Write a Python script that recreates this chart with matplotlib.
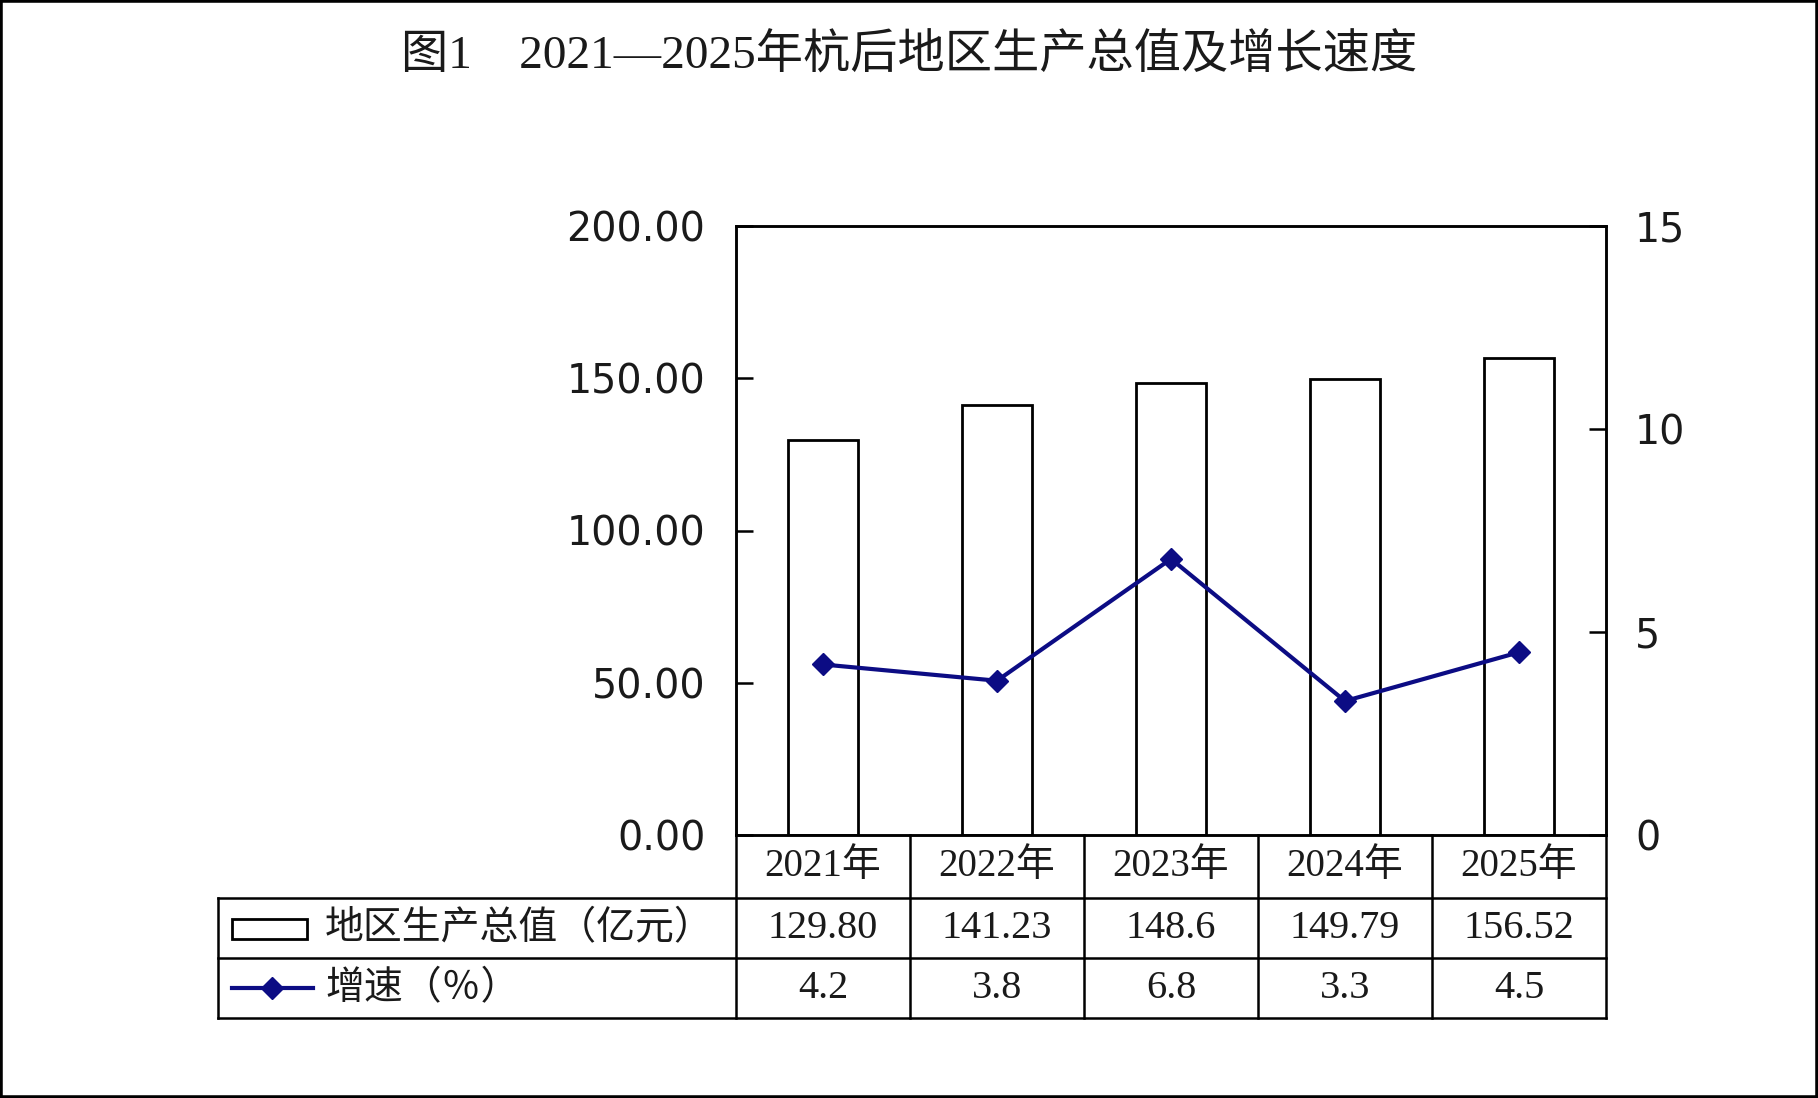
import matplotlib
matplotlib.use("Agg")
import matplotlib.pyplot as plt
import matplotlib.transforms as mtransforms
from matplotlib.lines import Line2D
from matplotlib.patches import Rectangle

# data
years = ["2021年", "2022年", "2023年", "2024年", "2025年"]
gdp = [129.80, 141.23, 148.6, 149.79, 156.52]
gdp_labels = ["129.80", "141.23", "148.6", "149.79", "156.52"]
growth = [4.2, 3.8, 6.8, 3.3, 4.5]
growth_labels = ["4.2", "3.8", "6.8", "3.3", "4.5"]
left_ticks = [0, 50, 100, 150, 200]
right_ticks = [0, 5, 10, 15]

title = "图1\u30002021—2025年杭后地区生产总值及增长速度"
gdp_name = "地区生产总值（亿元）"
growth_name = "增速（％）"

serif_cjk = ["Liberation Serif", "Noto Sans CJK SC", "DejaVu Sans"]
line_color = "#0c0c84"
txt_color = "#1a1a1a"

W, H = 1818, 1098
fig = plt.figure(figsize=(W / 100, H / 100), dpi=100)

# axes box in pixels
ax_l, ax_r, ax_t, ax_b = 736, 1606, 226, 835
ax = fig.add_axes([ax_l / W, 1 - ax_b / H, (ax_r - ax_l) / W, (ax_b - ax_t) / H])
x = list(range(len(years)))
ax.bar(x, gdp, width=0.4, color="white", edgecolor="black", linewidth=2, zorder=2)
ax.set_xlim(-0.5, len(years) - 0.5)
ax.set_ylim(0, 200)
ax.set_yticks(left_ticks)
ax.set_yticklabels([f"{v:.2f}" for v in left_ticks])
ax.set_xticks([])
ax.tick_params(axis="y", direction="in", length=12, width=1.8, pad=22,
               labelsize=28.5, labelcolor=txt_color)
for s in ax.spines.values():
    s.set_linewidth(1.8)

ax2 = ax.twinx()
ax2.plot(x, growth, color=line_color, linewidth=3, marker="D", markersize=11,
         markerfacecolor=line_color, markeredgecolor=line_color, zorder=3)
ax2.set_ylim(0, 15)
ax2.set_yticks(right_ticks)
ax2.set_yticklabels([str(v) for v in right_ticks])
ax2.tick_params(axis="y", direction="in", length=12, width=1.8, pad=21,
                labelsize=28.5, labelcolor=txt_color)
for s in ax2.spines.values():
    s.set_linewidth(1.8)

# title
fig.text(0.5, 1 - 56 / H, title, ha="center", va="center", fontsize=34,
         family=serif_cjk, color=txt_color)

# data table under the axes
trans = mtransforms.blended_transform_factory(ax.transData, fig.transFigure)
px_per_cat = (ax_r - ax_l) / len(years)
tab_left = -0.5 - (ax_l - 218) / px_per_cat
rows_px = [835, 898, 958, 1018]
rows = [1 - r / H for r in rows_px]
xr = len(years) - 0.5
lw = 1.8

def hline(x0, x1, y):
    fig.add_artist(Line2D([x0, x1], [y, y], transform=trans, color="black", lw=lw))

def vline(xv, y0, y1):
    fig.add_artist(Line2D([xv, xv], [y0, y1], transform=trans, color="black", lw=lw))

hline(tab_left, xr, rows[1])
hline(tab_left, xr, rows[2])
hline(tab_left, xr, rows[3])
vline(tab_left, rows[1], rows[3])
for i in range(len(years) + 1):
    vline(i - 0.5, rows[0], rows[3])

cy = [(rows[i] + rows[i + 1]) / 2 for i in range(3)]
for i in x:
    fig.text(i, cy[0], years[i], transform=trans, ha="center", va="center",
             fontsize=28, family=serif_cjk, color=txt_color)
    fig.text(i, cy[1], gdp_labels[i], transform=trans, ha="center", va="center",
             fontsize=29, family=serif_cjk, color=txt_color)
    fig.text(i, cy[2], growth_labels[i], transform=trans, ha="center", va="center",
             fontsize=29, family=serif_cjk, color=txt_color)

# legend keys inside the table
fig.add_artist(Rectangle((232 / W, 1 - 939 / H), 75 / W, 20 / H, transform=fig.transFigure,
                         facecolor="white", edgecolor="black", lw=2))
fig.add_artist(Line2D([232 / W, 313 / W], [1 - 988 / H, 1 - 988 / H], transform=fig.transFigure,
                      color=line_color, lw=3))
fig.add_artist(Line2D([272 / W], [1 - 988 / H], transform=fig.transFigure, marker="D",
                      markersize=11, color=line_color, lw=0))
fig.text(325 / W, cy[1], gdp_name, ha="left", va="center", fontsize=28,
         family=["Noto Sans CJK SC", "DejaVu Sans"], color=txt_color)
fig.text(325 / W, cy[2], growth_name, ha="left", va="center", fontsize=28,
         family=["Noto Sans CJK SC", "DejaVu Sans"], color=txt_color)

# outer frame
fig.add_artist(Rectangle((0, 0), 1, 1, transform=fig.transFigure, fill=False,
                         edgecolor="black", lw=4))

fig.savefig("out.png", dpi=100)
